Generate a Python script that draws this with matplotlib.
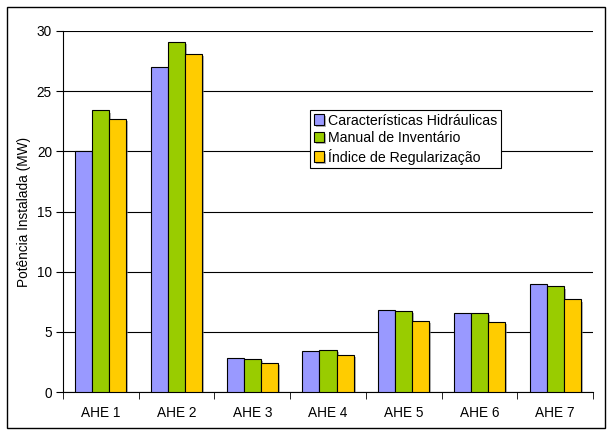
import matplotlib
matplotlib.use("Agg")
import matplotlib.pyplot as plt
import matplotlib.patheffects as pe
from matplotlib.patches import Rectangle
import numpy as np

plt.rcParams['font.family'] = ['Liberation Sans', 'DejaVu Sans']

categories = ["AHE 1", "AHE 2", "AHE 3", "AHE 4", "AHE 5", "AHE 6", "AHE 7"]
series_names = ["Características Hidráulicas", "Manual de Inventário", "Índice de Regularização"]
carac = [20.0, 27.0, 2.83, 3.42, 6.83, 6.6, 9.0]
manual = [23.4, 29.1, 2.75, 3.47, 6.75, 6.55, 8.77]
indice = [22.7, 28.1, 2.42, 3.08, 5.94, 5.8, 7.69]
colors = ["#9999FF", "#99CC00", "#FFCC00"]

fig = plt.figure(figsize=(6.13, 4.34), dpi=100)
ax = fig.add_axes([63/613, 1-392/434, (593-63)/613, (392-31)/434])

fig.patches.append(Rectangle((7/613, 6/434), 598/613, 421/434, transform=fig.transFigure,
                             fill=False, edgecolor='black', linewidth=1.0))

x = np.arange(len(categories))
w = 0.225
shadow = [pe.SimplePatchShadow(offset=(1.5, -1.5), shadow_rgbFace='#808080', alpha=0.6), pe.Normal()]
for i, (vals, name, c) in enumerate(zip([carac, manual, indice], series_names, colors)):
    ax.bar(x + (i - 1) * w, vals, w, color=c, edgecolor='black', linewidth=0.8,
           label=name, zorder=3, path_effects=shadow)

fs = 9.8
ax.set_xlim(-0.5, len(categories) - 0.5)
ax.set_ylim(0, 30)
ax.set_yticks([0, 5, 10, 15, 20, 25, 30])
ax.yaxis.grid(True, color='black', linewidth=0.8, zorder=0)
ax.set_axisbelow(True)
ax.set_xticks(x)
ax.set_xticklabels(categories, fontsize=fs)
ax.set_xticks(np.arange(len(categories) + 1) - 0.5, minor=True)
ax.tick_params(axis='x', which='major', length=0, pad=10)
ax.tick_params(axis='x', which='minor', length=5, direction='out', color='black')
ax.tick_params(axis='y', length=5, direction='out', labelsize=fs, pad=3)
ax.set_ylabel("Potência Instalada (MW)", fontsize=fs, labelpad=4)
for s in ['top', 'right']:
    ax.spines[s].set_visible(False)
ax.spines['left'].set_color('black')
ax.spines['bottom'].set_color('black')

leg = ax.legend(loc='upper left', bbox_to_anchor=((310-63)/530, (392-110)/361),
                fontsize=10.2, frameon=True, fancybox=False, edgecolor='black',
                framealpha=1, borderpad=0.25, labelspacing=0.25, handlelength=0.75,
                handleheight=0.75, handletextpad=0.25, borderaxespad=0)
leg.get_frame().set_linewidth(0.8)

fig.savefig("out.png", dpi=100)
